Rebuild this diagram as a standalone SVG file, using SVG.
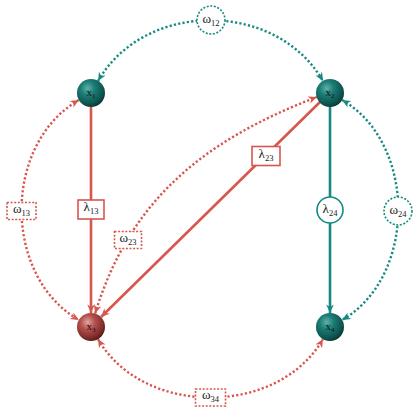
<svg xmlns="http://www.w3.org/2000/svg" width="420" height="420" viewBox="0 0 420 420">
<defs>
<style>
.t{stroke:#158a82;fill:none}
.r{stroke:#d8564f;fill:none}
.dot{stroke-width:2.4;stroke-dasharray:2.2 2.2}
.sol{stroke-width:2.6}
.lbl{font-family:"Liberation Serif","DejaVu Serif",serif;font-size:13px;fill:#1a1a1a;text-anchor:middle}
.sub{font-size:8.5px}
.nl{font-family:"Liberation Serif","DejaVu Serif",serif;font-size:11px;fill:#111;text-anchor:middle}
.nsub{font-size:7px}
.boxr{fill:#fff;stroke:#d8564f;stroke-width:1.6}
.boxt{fill:#fff;stroke:#158a82;stroke-width:1.6}
.dbox{stroke-dasharray:2 1.6}
</style>
<radialGradient id="gt" cx="0.38" cy="0.33" r="0.72">
<stop offset="0" stop-color="#5db2ab"/>
<stop offset="0.35" stop-color="#1c7d76"/>
<stop offset="0.8" stop-color="#0d524e"/>
<stop offset="1" stop-color="#073330"/>
</radialGradient>
<radialGradient id="gr" cx="0.38" cy="0.33" r="0.72">
<stop offset="0" stop-color="#e3a4a1"/>
<stop offset="0.35" stop-color="#b4524f"/>
<stop offset="0.8" stop-color="#7c2b29"/>
<stop offset="1" stop-color="#4d1817"/>
</radialGradient>
<marker id="at" viewBox="-9 -5 10 10" refX="0" refY="0" markerWidth="10" markerHeight="10" markerUnits="userSpaceOnUse" orient="auto-start-reverse">
<path d="M0,0 L-8.5,-3.8 L-6,0 L-8.5,3.8 Z" fill="#158a82"/>
</marker>
<marker id="ar" viewBox="-9 -5 10 10" refX="0" refY="0" markerWidth="10" markerHeight="10" markerUnits="userSpaceOnUse" orient="auto-start-reverse">
<path d="M0,0 L-8.5,-3.8 L-6,0 L-8.5,3.8 Z" fill="#d8564f"/>
</marker>
</defs>
<rect width="420" height="420" fill="#fff"/>
<g id="connectors">
<path class="t dot" d="M98,81 C145,0 276,0 323,81" marker-start="url(#at)" marker-end="url(#at)"/>
<path class="t dot" d="M342.1,100 C417,143.3 417,276.7 342.1,320" marker-start="url(#at)" marker-end="url(#at)"/>
<path class="r dot" d="M78.9,100 C2.4,144.2 2.4,275.8 78.9,320" marker-start="url(#ar)" marker-end="url(#ar)"/>
<path class="r dot" d="M98,339.1 C143,417 278,417 323,339.1" marker-start="url(#ar)" marker-end="url(#ar)"/>
<path class="r dot" d="M95.1,313.6 C130,199 204.8,140 316.9,97" marker-start="url(#ar)" marker-end="url(#ar)"/>
<path class="r sol" d="M91,107 L91,313" marker-end="url(#ar)"/>
<path class="r sol" d="M320,102 L101,317" marker-end="url(#ar)"/>
<path class="t sol" d="M330,107 L330,313" marker-end="url(#at)"/>
</g>
<g id="edge-labels">
<g id="w12"><circle class="boxt dbox" cx="211" cy="20" r="14"/><text class="lbl" x="211" y="23">ω<tspan class="sub" dy="3">12</tspan></text></g>
<g id="w34"><rect class="boxr dbox" x="195.5" y="389" width="30" height="17"/><text class="lbl" x="210.5" y="399">ω<tspan class="sub" dy="3">34</tspan></text></g>
<g id="w13"><rect class="boxr dbox" x="7" y="202.5" width="29" height="17"/><text class="lbl" x="21.5" y="212.5">ω<tspan class="sub" dy="3">13</tspan></text></g>
<g id="w24"><circle class="boxt dbox" cx="398" cy="211" r="14"/><text class="lbl" x="398" y="214">ω<tspan class="sub" dy="3">24</tspan></text></g>
<g id="w23"><rect class="boxr dbox" x="114.5" y="231.5" width="27" height="17"/><text class="lbl" x="128" y="241.5">ω<tspan class="sub" dy="3">23</tspan></text></g>
<g id="l13"><rect class="boxr" x="78" y="200" width="26" height="19"/><text class="lbl" x="91" y="211">λ<tspan class="sub" dy="3">13</tspan></text></g>
<g id="l23"><rect class="boxr" x="252" y="146.5" width="28" height="19"/><text class="lbl" x="266" y="157.5">λ<tspan class="sub" dy="3">23</tspan></text></g>
<g id="l24"><circle class="boxt" cx="330" cy="210" r="13"/><text class="lbl" x="330" y="213">λ<tspan class="sub" dy="3">24</tspan></text></g>
</g>
<g id="x1"><circle cx="91" cy="93" r="14" fill="url(#gt)"/><text class="nl" x="91" y="96">x<tspan class="nsub" dy="2">1</tspan></text></g>
<g id="x2"><circle cx="330" cy="93" r="14" fill="url(#gt)"/><text class="nl" x="330" y="96">x<tspan class="nsub" dy="2">2</tspan></text></g>
<g id="x3"><circle cx="91" cy="327" r="14" fill="url(#gr)"/><text class="nl" x="91" y="330">x<tspan class="nsub" dy="2">3</tspan></text></g>
<g id="x4"><circle cx="330" cy="327" r="14" fill="url(#gt)"/><text class="nl" x="330" y="330">x<tspan class="nsub" dy="2">4</tspan></text></g>
</svg>
